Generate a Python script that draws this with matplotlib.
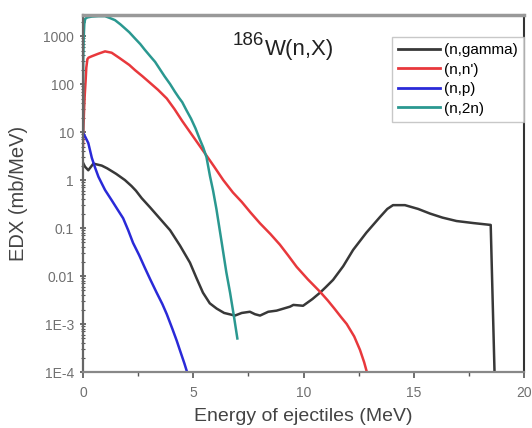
import matplotlib
matplotlib.use("Agg")
import matplotlib.pyplot as plt
from matplotlib.ticker import FixedLocator, FixedFormatter, MultipleLocator, LogLocator, NullFormatter

plt.rcParams['font.family'] = ['Liberation Sans', 'DejaVu Sans']

# ---- data ----
gamma_x = [0, 0.09, 0.24, 0.47, 0.85, 1.1, 1.5, 1.9, 2.2, 2.4, 2.66, 3.04, 3.5, 3.95, 4.4, 4.85,
           5.15, 5.44, 5.75, 6.06, 6.4, 6.89, 7.2, 7.57, 7.8, 8.03, 8.4, 8.78, 9.1, 9.39, 9.54,
           9.98, 10.4, 10.75, 11.0, 11.34, 11.8, 12.25, 12.85, 13.47, 13.8, 14.06, 14.6, 15.2,
           15.74, 16.3, 16.94, 17.7, 18.49, 18.68]
gamma_y = [2.3, 1.9, 1.6, 2.2, 2.0, 1.75, 1.35, 1.0, 0.75, 0.6, 0.42, 0.27, 0.155, 0.09, 0.043, 0.019,
           0.009, 0.0045, 0.0027, 0.0021, 0.0017, 0.0015, 0.0017, 0.0018, 0.0016, 0.0015, 0.0018,
           0.0019, 0.0021, 0.0023, 0.0025, 0.0024, 0.0033, 0.0045, 0.0058, 0.0083, 0.016, 0.035,
           0.08, 0.17, 0.25, 0.30, 0.30, 0.25, 0.20, 0.165, 0.14, 0.127, 0.116, 5e-5]

nn_x = [0, 0.02, 0.05, 0.08, 0.12, 0.15, 0.2, 0.25, 0.4, 0.7, 1.0, 1.3, 1.65, 2.1, 2.36, 2.7,
        3.0, 3.4, 3.8, 4.15, 4.5, 5.0, 5.53, 5.95, 6.36, 6.8, 7.2, 7.6, 8.03, 8.5, 8.93, 9.3,
        9.69, 10.2, 10.75, 11.1, 11.4, 11.7, 11.96, 12.3, 12.56, 12.75, 12.9]
nn_y = [5, 12, 30, 60, 120, 220, 330, 355, 380, 430, 480, 450, 350, 250, 195, 145,
        110, 76, 50, 30, 17, 8, 3.6, 1.9, 1.0, 0.55, 0.35, 0.21, 0.125, 0.075, 0.045, 0.027,
        0.0155, 0.0085, 0.0047, 0.0031, 0.0021, 0.0014, 1.0e-3, 5.5e-4, 2.9e-4, 1.6e-4, 9e-5]

np_x = [0, 0.1, 0.24, 0.4, 0.55, 0.7, 0.85, 1.0, 1.3, 1.55, 1.82, 2.05, 2.27, 2.55, 2.8, 3.05,
        3.34, 3.6, 3.8, 4.05, 4.25, 4.4, 4.6, 4.75]
np_y = [9.6, 8.0, 5.9, 2.9, 1.8, 1.17, 0.85, 0.62, 0.38, 0.25, 0.16, 0.09, 0.049, 0.027, 0.015,
        0.0085, 0.0045, 0.0026, 0.0016, 8.0e-4, 4.5e-4, 2.8e-4, 1.5e-4, 9e-5]

n2n_x = [0, 0.01, 0.03, 0.06, 0.1, 0.2, 0.4, 0.7, 1.0, 1.2, 1.45, 1.7, 1.9, 2.1, 2.36, 2.6, 2.8,
         3.05, 3.27, 3.5, 3.7, 3.95, 4.17, 4.35, 4.5, 4.7, 4.9, 5.1, 5.3, 5.45, 5.6, 5.76, 5.9,
         6.05, 6.29, 6.5, 6.67, 6.85, 7.0]
n2n_y = [10, 300, 900, 1800, 2300, 2450, 2550, 2600, 2600, 2400, 2150, 1750, 1450, 1200, 890,
         680, 520, 380, 290, 200, 145, 100, 69, 52, 42, 28, 19, 12, 7, 4.8, 3.0, 1.2, 0.6,
         0.25, 0.05, 0.012, 0.0045, 0.0014, 5e-4]

labels = ['(n,gamma)', "(n,n')", '(n,p)', '(n,2n)']
colors = ['#383838', '#e8383c', '#2a2ad8', '#2a9890']

ytick_vals = [1e-4, 1e-3, 1e-2, 1e-1, 1, 10, 100, 1000]
ytick_labels = ['1E-4', '1E-3', '0.01', '0.1', '1', '10', '100', '1000']
xtick_vals = [0, 5, 10, 15, 20]

fig = plt.figure(figsize=(5.32, 4.28), dpi=100)
ax = fig.add_axes([83/532, 1 - 372/428, 441/532, 357/428])

for (xs, ys), lab, c in zip([(gamma_x, gamma_y), (nn_x, nn_y), (np_x, np_y), (n2n_x, n2n_y)],
                            labels, colors):
    ax.plot(xs, ys, color=c, lw=1.8, label=lab, solid_joinstyle='round')

ax.set_yscale('log')
ax.set_xlim(0, 20)
ax.set_ylim(1e-4, 2750)

ax.yaxis.set_major_locator(FixedLocator(ytick_vals))
ax.yaxis.set_major_formatter(FixedFormatter(ytick_labels))
ax.yaxis.set_minor_locator(LogLocator(base=10, subs=range(2, 10), numticks=20))
ax.yaxis.set_minor_formatter(NullFormatter())
ax.xaxis.set_major_locator(FixedLocator(xtick_vals))
ax.xaxis.set_minor_locator(MultipleLocator(2.5))

ax.tick_params(axis='both', which='major', labelsize=10, labelcolor='#707070', color='#555555')
ax.tick_params(axis='y', which='major', direction='inout', length=5, width=1.2, pad=4)
ax.tick_params(axis='y', which='minor', direction='inout', length=3, width=0.8, color='#555555')
ax.tick_params(axis='x', which='major', direction='out', length=4, width=1.2, pad=6)
ax.tick_params(axis='x', which='minor', direction='out', length=3, width=1.0, color='#555555')

ax.spines['left'].set_color('#666666')
ax.spines['left'].set_linewidth(1.6)
ax.spines['bottom'].set_color('#888888')
ax.spines['bottom'].set_linewidth(1.6)
ax.spines['top'].set_color('#999999')
ax.spines['top'].set_linewidth(2.5)
ax.spines['right'].set_color('#333333')
ax.spines['right'].set_linewidth(1.5)

ax.set_xlabel('Energy of ejectiles (MeV)', fontsize=14, color='#444444', labelpad=6)
ax.set_ylabel('EDX (mb/MeV)', fontsize=14.5, color='#444444', labelpad=11)

fig.text(264/532, 1 - 45/428, '186', fontsize=13.5, color='#222222', va='baseline', ha='right')
fig.text(265/532, 1 - 55/428, 'W(n,X)', fontsize=16, color='#222222', va='baseline')

leg = ax.legend(loc='upper right', bbox_to_anchor=(1.0, (372 - 37) / 357), borderaxespad=0,
                fontsize=11, frameon=True, fancybox=False, handlelength=2.7,
                handletextpad=0.3, labelspacing=0.36, borderpad=0.4)
leg.get_frame().set_edgecolor('#bbbbbb')
leg.get_frame().set_linewidth(1.0)
for line in leg.get_lines():
    line.set_linewidth(2.0)

fig.savefig('out.png', dpi=100)
